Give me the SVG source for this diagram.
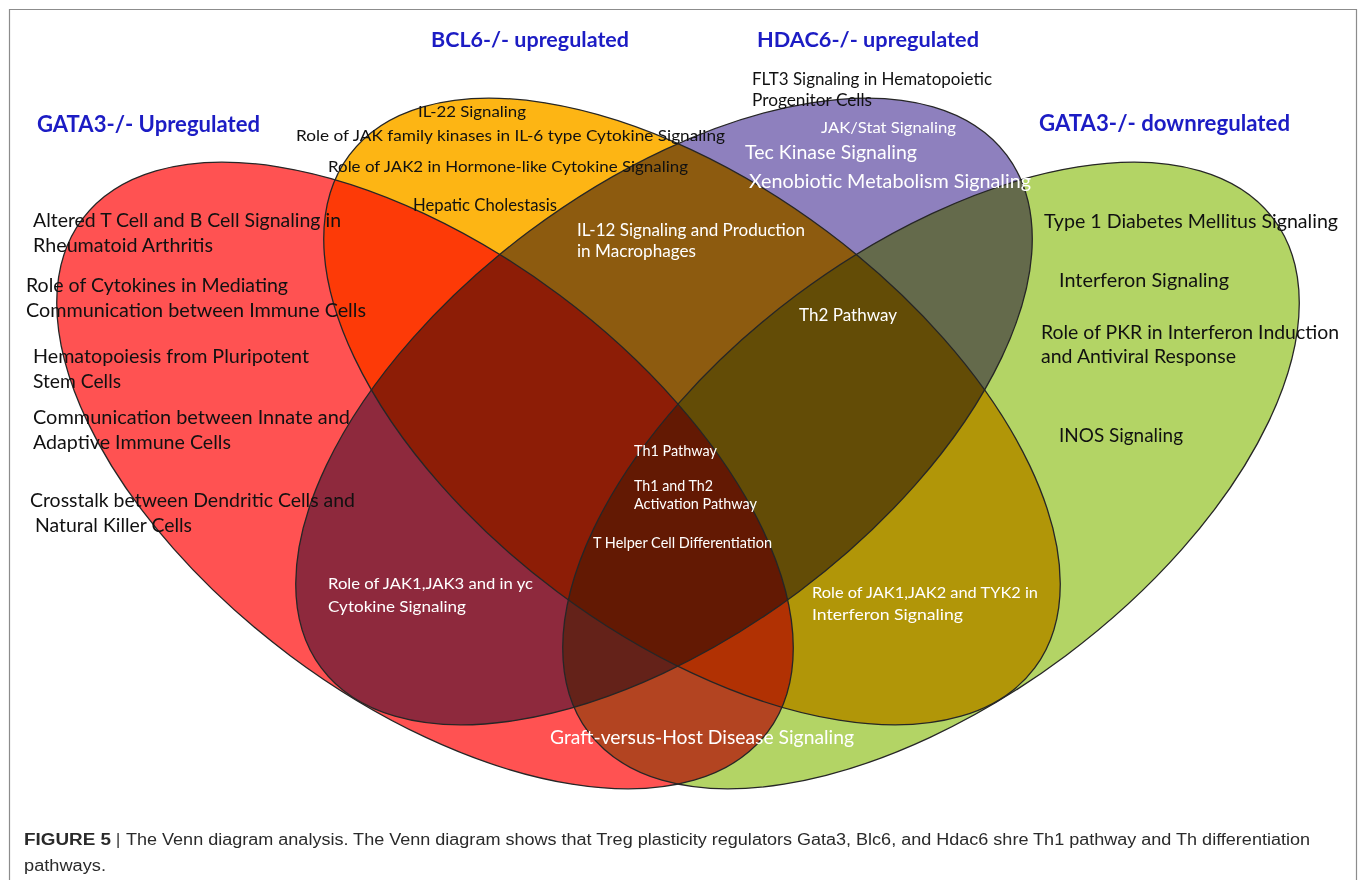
<svg xmlns="http://www.w3.org/2000/svg" width="1358" height="880" viewBox="0 0 1358 880">
<style>
.set{mix-blend-mode:multiply;stroke:none}
.edge{fill:none;stroke:#262626;stroke-width:1.3}
.t{font-family:Lato,"Open Sans","DejaVu Sans",sans-serif;fill:#111}
.w{font-family:Lato,"Open Sans","DejaVu Sans",sans-serif;fill:#fff}
.h{font-family:Lato,"Open Sans","DejaVu Sans",sans-serif;font-weight:bold;fill:#1c1cc4;font-size:21px}
.cap{font-family:"Liberation Sans",Arial,sans-serif;fill:#2a2a2a;font-size:16px}
</style>
<rect width="1358" height="880" fill="#fff"/>
<path d="M9.5,880 V9.5 H1356.5 V880" fill="none" stroke="#8c8c8c" stroke-width="1.2"/>
<g id="venn" style="isolation:isolate">
  <g id="gata3-up"><ellipse class="set" cx="425" cy="475.5" rx="428" ry="225" transform="rotate(36.8 425 475.5)" fill="#FF5252"/></g>
  <g id="bcl6-up"><ellipse class="set" cx="692" cy="411.5" rx="428" ry="225" transform="rotate(36.8 692 411.5)" fill="#FDB514"/></g>
  <g id="hdac6-up"><ellipse class="set" cx="664" cy="411.5" rx="428" ry="225" transform="rotate(-36.8 664 411.5)" fill="#8E80BE"/></g>
  <g id="gata3-down"><ellipse class="set" cx="931" cy="475.5" rx="428" ry="225" transform="rotate(-36.8 931 475.5)" fill="#B3D465"/></g>
</g>
<g id="outlines">
  <ellipse class="edge" cx="425" cy="475.5" rx="428" ry="225" transform="rotate(36.8 425 475.5)"/>
  <ellipse class="edge" cx="692" cy="411.5" rx="428" ry="225" transform="rotate(36.8 692 411.5)"/>
  <ellipse class="edge" cx="664" cy="411.5" rx="428" ry="225" transform="rotate(-36.8 664 411.5)"/>
  <ellipse class="edge" cx="931" cy="475.5" rx="428" ry="225" transform="rotate(-36.8 931 475.5)"/>
</g>
<g id="titles" lengthAdjust="spacingAndGlyphs">
  <text class="h" x="431" y="47" textLength="198" lengthAdjust="spacingAndGlyphs">BCL6-/- upregulated</text>
  <text class="h" x="757" y="47" textLength="222" lengthAdjust="spacingAndGlyphs">HDAC6-/- upregulated</text>
  <text class="h" x="37" y="132" textLength="223" lengthAdjust="spacingAndGlyphs" style="font-size:22px">GATA3-/- Upregulated</text>
  <text class="h" x="1039" y="131" textLength="251" lengthAdjust="spacingAndGlyphs" style="font-size:22px">GATA3-/- downregulated</text>
</g>
<g id="labels-dark">
  <text class="t" x="418" y="117" font-size="16" textLength="108" lengthAdjust="spacingAndGlyphs">IL-22 Signaling</text>
  <text class="t" x="296" y="141" font-size="16" textLength="429" lengthAdjust="spacingAndGlyphs">Role of JAK family kinases in IL-6  type Cytokine Signaling</text>
  <text class="t" x="328" y="172" font-size="16" textLength="360" lengthAdjust="spacingAndGlyphs">Role of JAK2 in Hormone-like  Cytokine Signaling</text>
  <text class="t" x="413" y="211" font-size="17" textLength="144" lengthAdjust="spacingAndGlyphs">Hepatic Cholestasis</text>
  <text class="t" x="33" y="227" font-size="18.5" textLength="308" lengthAdjust="spacingAndGlyphs">Altered T Cell and B Cell Signaling in</text>
  <text class="t" x="33" y="252" font-size="18.5" textLength="180" lengthAdjust="spacingAndGlyphs">Rheumatoid  Arthritis</text>
  <text class="t" x="26" y="292" font-size="18.5" textLength="262" lengthAdjust="spacingAndGlyphs">Role of Cytokines in Mediating</text>
  <text class="t" x="26" y="317" font-size="18.5" textLength="340" lengthAdjust="spacingAndGlyphs">Communication  between Immune Cells</text>
  <text class="t" x="33" y="363" font-size="18.5" textLength="276" lengthAdjust="spacingAndGlyphs">Hematopoiesis  from Pluripotent</text>
  <text class="t" x="33" y="388" font-size="18.5" textLength="88" lengthAdjust="spacingAndGlyphs">Stem Cells</text>
  <text class="t" x="33" y="424" font-size="18.5" textLength="317" lengthAdjust="spacingAndGlyphs">Communication  between Innate and</text>
  <text class="t" x="33" y="449" font-size="18.5" textLength="198" lengthAdjust="spacingAndGlyphs">Adaptive  Immune Cells</text>
  <text class="t" x="30" y="507" font-size="18.5" textLength="325" lengthAdjust="spacingAndGlyphs">Crosstalk between  Dendritic Cells and</text>
  <text class="t" x="35" y="532" font-size="18.5" textLength="157" lengthAdjust="spacingAndGlyphs">Natural Killer Cells</text>
  <text class="t" x="752" y="85" font-size="17" textLength="240" lengthAdjust="spacingAndGlyphs">FLT3 Signaling in Hematopoietic</text>
  <text class="t" x="752" y="106" font-size="17" textLength="120" lengthAdjust="spacingAndGlyphs">Progenitor Cells</text>
  <text class="t" x="1044" y="228" font-size="20" textLength="294" lengthAdjust="spacingAndGlyphs">Type 1 Diabetes Mellitus Signaling</text>
  <text class="t" x="1059" y="287" font-size="20" textLength="170" lengthAdjust="spacingAndGlyphs">Interferon Signaling</text>
  <text class="t" x="1041" y="339" font-size="20" textLength="298" lengthAdjust="spacingAndGlyphs">Role of PKR in Interferon Induction</text>
  <text class="t" x="1041" y="363" font-size="20" textLength="195" lengthAdjust="spacingAndGlyphs">and Antiviral Response</text>
  <text class="t" x="1059" y="442" font-size="20" textLength="124" lengthAdjust="spacingAndGlyphs">INOS Signaling</text>
</g>
<g id="labels-light">
  <text class="w" x="821" y="133" font-size="16" textLength="135" lengthAdjust="spacingAndGlyphs">JAK/Stat Signaling</text>
  <text class="w" x="745" y="159" font-size="20" textLength="172" lengthAdjust="spacingAndGlyphs">Tec Kinase Signaling</text>
  <text class="w" x="749" y="188" font-size="20" textLength="282" lengthAdjust="spacingAndGlyphs">Xenobiotic  Metabolism Signaling</text>
  <text class="w" x="577" y="236" font-size="16.5" textLength="228" lengthAdjust="spacingAndGlyphs">IL-12 Signaling and Production</text>
  <text class="w" x="577" y="257" font-size="16.5" textLength="119" lengthAdjust="spacingAndGlyphs">in Macrophages</text>
  <text class="w" x="799" y="321" font-size="17" textLength="98" lengthAdjust="spacingAndGlyphs">Th2 Pathway</text>
  <text class="w" x="634" y="456" font-size="15" textLength="83" lengthAdjust="spacingAndGlyphs">Th1 Pathway</text>
  <text class="w" x="634" y="491" font-size="15" textLength="79" lengthAdjust="spacingAndGlyphs">Th1 and Th2</text>
  <text class="w" x="634" y="509" font-size="15" textLength="123" lengthAdjust="spacingAndGlyphs">Activation Pathway</text>
  <text class="w" x="593" y="548" font-size="15" textLength="179" lengthAdjust="spacingAndGlyphs">T Helper Cell Differentiation</text>
  <text class="w" x="328" y="589" font-size="16" textLength="205" lengthAdjust="spacingAndGlyphs">Role of JAK1,JAK3 and in yc</text>
  <text class="w" x="328" y="612" font-size="16" textLength="138" lengthAdjust="spacingAndGlyphs">Cytokine Signaling</text>
  <text class="w" x="812" y="598" font-size="16" textLength="226" lengthAdjust="spacingAndGlyphs">Role of JAK1,JAK2 and TYK2 in</text>
  <text class="w" x="812" y="620" font-size="16" textLength="151" lengthAdjust="spacingAndGlyphs">Interferon Signaling</text>
  <text class="w" x="550" y="744" font-size="18.5" textLength="304" lengthAdjust="spacingAndGlyphs">Graft-versus-Host Disease Signaling</text>
</g>
<g id="caption">
  <text class="cap" x="24" y="845" font-weight="bold" textLength="87" lengthAdjust="spacingAndGlyphs">FIGURE 5</text>
  <text class="cap" x="116" y="845">|</text>
  <text class="cap" x="126" y="845" textLength="1184" lengthAdjust="spacingAndGlyphs">The Venn diagram analysis. The Venn diagram shows that Treg plasticity regulators Gata3, Blc6, and Hdac6 shre Th1 pathway and Th differentiation</text>
  <text class="cap" x="24" y="871" textLength="82" lengthAdjust="spacingAndGlyphs">pathways.</text>
</g>
</svg>
